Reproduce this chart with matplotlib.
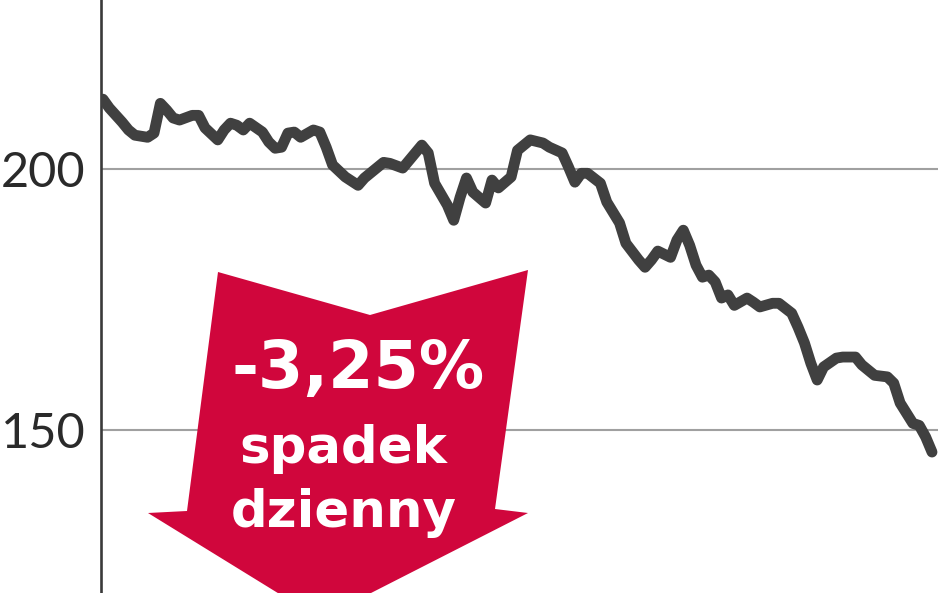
import matplotlib
matplotlib.use("Agg")
import matplotlib.pyplot as plt
from matplotlib.patches import Polygon

# ---- data ----
days = [0, 1, 3, 4, 5, 7, 8, 9, 10, 11, 12, 14, 15, 16, 18, 19, 20, 21, 22, 23,
        25, 26, 27, 28, 29, 30, 31, 33, 34, 35, 36, 38, 40, 41, 44, 45, 47, 50, 51, 52,
        54, 55, 56, 57, 58, 60, 61, 62, 64, 65, 67, 69, 70, 72, 73, 74, 75, 76, 78, 79,
        81, 82, 84, 85, 86, 87, 89, 90, 91, 92, 93, 94, 95, 96, 97, 98, 99, 101, 102, 103,
        105, 106, 108, 109, 110, 111, 112, 113, 115, 116, 118, 119, 121, 123, 124, 125, 127, 128, 129, 130]
prices = [213.4, 211.7, 209.0, 207.5, 206.5, 206.1, 206.9, 212.6, 211.3, 209.8, 209.4, 210.3, 210.3, 207.9, 205.6, 207.5, 208.8, 208.4, 207.5, 208.8,
          207.1, 205.2, 204.0, 204.2, 206.9, 207.1, 206.1, 207.5, 207.1, 204.2, 200.8, 198.5, 196.9, 198.3, 201.3, 201.1, 200.2, 204.6, 203.1, 197.3,
          193.1, 190.2, 194.6, 198.3, 195.6, 193.5, 197.9, 196.4, 198.5, 203.6, 205.6, 205.0, 204.2, 203.1, 200.4, 197.5, 199.2, 199.2, 197.3, 193.7,
          189.7, 185.8, 182.6, 181.2, 182.6, 184.3, 183.1, 186.4, 188.3, 185.4, 181.6, 179.3, 179.7, 178.4, 175.3, 175.9, 173.9, 175.3, 174.5, 173.6,
          174.3, 174.3, 172.4, 169.7, 166.7, 162.8, 159.6, 162.1, 163.8, 164.0, 164.0, 162.5, 160.5, 160.2, 159.0, 155.2, 151.3, 150.9, 148.7, 145.8]
y_ticks = [150, 200]
y_tick_labels = ["150", "200"]
badge_lines = ["-3,25%", "spadek", "dzienny"]

W, H = 948, 593
fig = plt.figure(figsize=(W / 100, H / 100), dpi=100)
fig.patch.set_facecolor("white")

ax_left, ax_right = 101, 938
ax = fig.add_axes([ax_left / W, 0, (ax_right - ax_left) / W, 1])
ax.set_facecolor("white")

ax.set_ylim(118.8, 232.4)
ax.set_xlim(-0.31, 130.94)

for t in y_ticks:
    ax.axhline(t, color="#a0a0a0", lw=1.5, zorder=1)

ax.plot(days, prices, color="#404040", lw=7.8, solid_joinstyle="round",
        solid_capstyle="round", zorder=3)

for s in ["top", "right", "bottom"]:
    ax.spines[s].set_visible(False)
ax.spines["left"].set_color("#3a3a3a")
ax.spines["left"].set_linewidth(1.9)
ax.set_xticks([])
ax.set_yticks(y_ticks)
ax.set_yticklabels(y_tick_labels, fontsize=35, color="#2a2a2a",
                   family=["Lato", "DejaVu Sans"], fontweight="normal")
ax.tick_params(axis="y", length=0, pad=11)


# ---- red arrow badge (figure pixel coordinates, origin top-left) ----
def fp(x, y):
    return (x / W, 1 - y / H)

arrow_px = [(218, 272), (370, 315), (528, 270), (495, 509), (528, 513),
            (320, 619), (148, 513), (187, 511)]
arrow = Polygon([fp(x, y) for x, y in arrow_px], closed=True,
                transform=fig.transFigure, facecolor="#d0063c",
                edgecolor="none", zorder=5)
fig.patches.append(arrow)

fig.text(*fp(358, 388), badge_lines[0], color="white", fontsize=47,
         fontweight="bold", ha="center", va="baseline", zorder=6)
fig.text(*fp(343, 463), badge_lines[1], color="white", fontsize=37,
         fontweight="bold", ha="center", va="baseline", zorder=6)
fig.text(*fp(344, 527), badge_lines[2], color="white", fontsize=37,
         fontweight="bold", ha="center", va="baseline", zorder=6)

fig.savefig("out.png", dpi=100, facecolor="white")
